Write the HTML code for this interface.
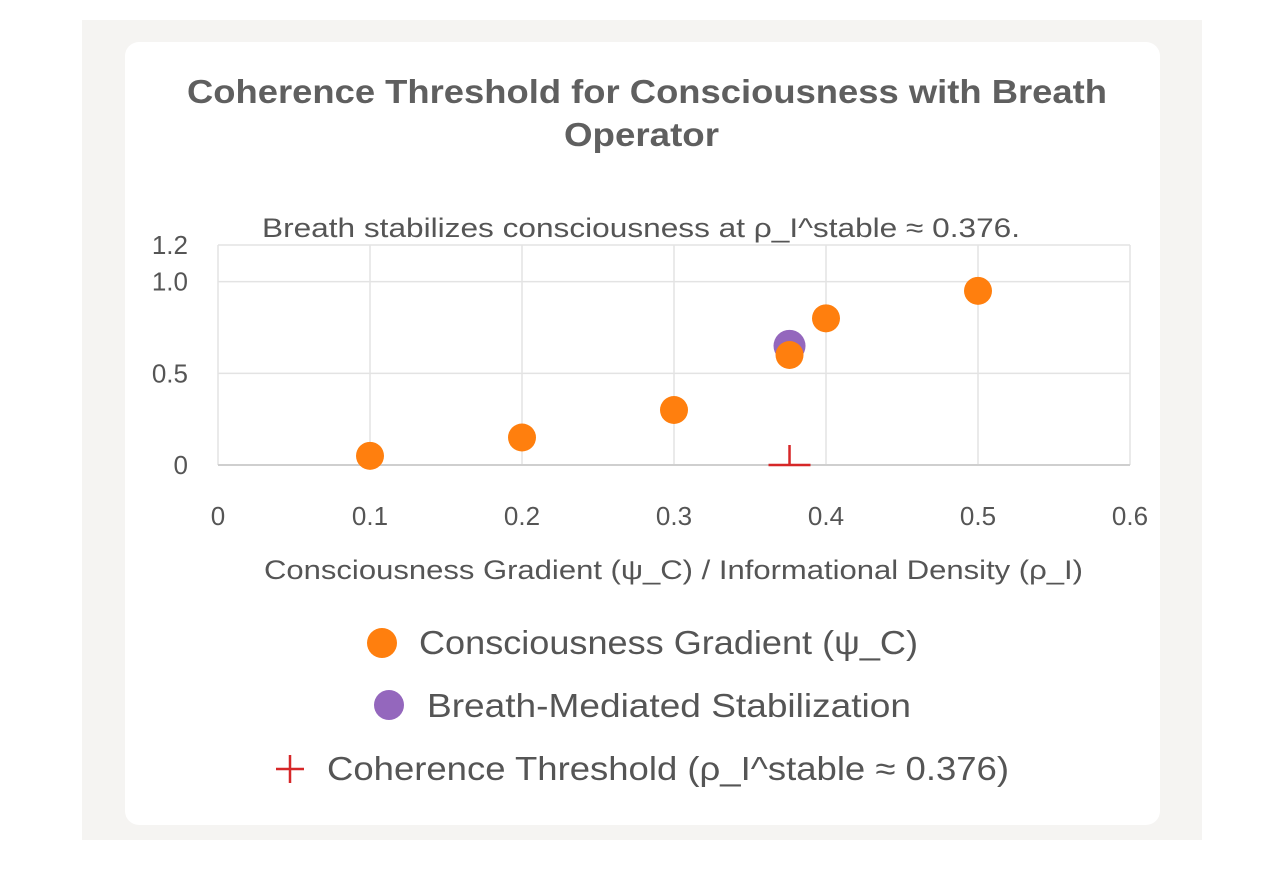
<!DOCTYPE html>
<html><head><meta charset="utf-8"><style>
body{margin:0;width:1284px;height:886px;background:#fff;font-family:"Liberation Sans",sans-serif;overflow:hidden}
#outer{position:absolute;left:82px;top:20px;width:1120px;height:820px;background:#f5f4f2}
#card{position:absolute;left:125px;top:42px;width:1035px;height:783px;background:#fff;border-radius:14px}
svg{position:absolute;left:0;top:0}
</style></head><body>
<div id="outer"></div>
<div id="card"></div>
<svg id="chart" width="1284" height="886"></svg>
<script>
const xs=[0.1,0.2,0.3,0.376,0.4,0.5];
const ys=[0.05,0.15,0.3,0.6,0.8,0.95];
const breathX=[0.376];
const breathY=[0.65];
const thresholdX=[0.376];
const thresholdY=[0];
const xTicks=[0,0.1,0.2,0.3,0.4,0.5,0.6];
const xTickLabels=["0","0.1","0.2","0.3","0.4","0.5","0.6"];
const yTicks=[0,0.5,1.0,1.2];
const yTickLabels=["0","0.5","1.0","1.2"];

const X0=218,X1=1130,Y0=465,YT=245;
const sx=v=>X0+(v-0)/(0.6-0)*(X1-X0);
const sy=v=>Y0-(v-0)/(1.2-0)*(Y0-YT);
const svg=document.getElementById('chart');
const NS='http://www.w3.org/2000/svg';
function mk(t,a,txt){const e=document.createElementNS(NS,t);for(const k in a)e.setAttribute(k,a[k]);if(txt!==undefined)e.textContent=txt;svg.appendChild(e);return e;}

let e;
e=mk('text',{x:187,y:103,'font-size':33,'font-weight':'bold',fill:'#5f5f5f',textLength:920,lengthAdjust:'spacingAndGlyphs'},'Coherence Threshold for Consciousness with Breath');


e=mk('text',{x:564,y:146,'font-size':33,'font-weight':'bold',fill:'#5f5f5f',textLength:155,lengthAdjust:'spacingAndGlyphs'},'Operator');


e=mk('text',{x:262,y:237,'font-size':27,fill:'#555',textLength:758,lengthAdjust:'spacingAndGlyphs'},'Breath stabilizes consciousness at ρ_I^stable ≈ 0.376.');



xTicks.forEach((t,i)=>{
  e=mk('line',{x1:sx(t),x2:sx(t),y1:YT,y2:Y0,stroke:'#e3e3e3','stroke-width':1.5});
  
  
  e=mk('text',{x:sx(t),y:525,'text-anchor':'middle','font-size':26,fill:'#555'},xTickLabels[i]);
  
  
});
yTicks.forEach((t,i)=>{
  e=mk('line',{x1:X0,x2:X1,y1:sy(t),y2:sy(t),stroke:t===0?'#cfcfcf':'#e3e3e3','stroke-width':t===0?2:1.5});
  
  
  e=mk('text',{x:188,y:sy(t)+9,'text-anchor':'end','font-size':26,fill:'#555'},yTickLabels[i]);
  
  
});
e=mk('text',{x:264,y:579,'font-size':27,fill:'#555',textLength:819,lengthAdjust:'spacingAndGlyphs'},'Consciousness Gradient (ψ_C) / Informational Density (ρ_I)');



breathX.forEach((v,i)=>{
  e=mk('circle',{cx:sx(v),cy:sy(breathY[i]),r:16,fill:'#9467bd'});
  
  
});
xs.forEach((v,i)=>{
  e=mk('circle',{cx:sx(v),cy:sy(ys[i]),r:14,fill:'#ff7f0e'});
  
  
});
thresholdX.forEach((v,i)=>{
  const cx=sx(v),cy=sy(thresholdY[i]);
  e=mk('path',{d:`M${cx-21},${cy}H${cx+21}M${cx},${cy-20}V${cy}`,stroke:'#d62728','stroke-width':2.5,fill:'none'});
  
  
});

// legend
e=mk('circle',{cx:382,cy:643,r:15,fill:'#ff7f0e'});


e=mk('text',{x:419,y:654,'font-size':33,fill:'#555',textLength:499,lengthAdjust:'spacingAndGlyphs'},'Consciousness Gradient (ψ_C)');


e=mk('circle',{cx:389,cy:705,r:15,fill:'#9467bd'});


e=mk('text',{x:427,y:717,'font-size':33,fill:'#555',textLength:484,lengthAdjust:'spacingAndGlyphs'},'Breath-Mediated Stabilization');


e=mk('path',{d:'M276,769H304M290,755V783',stroke:'#d62728','stroke-width':2.5});


e=mk('text',{x:327,y:780,'font-size':33,fill:'#555',textLength:682,lengthAdjust:'spacingAndGlyphs'},'Coherence Threshold (ρ_I^stable ≈ 0.376)');


</script>
</body></html>
